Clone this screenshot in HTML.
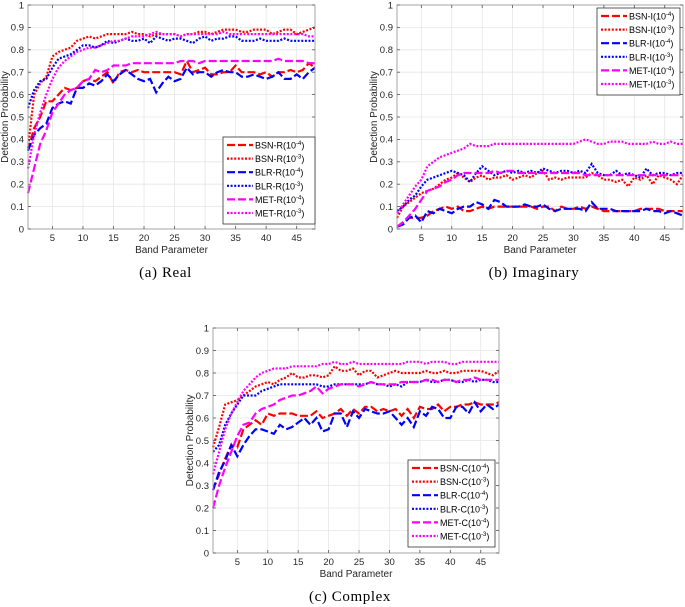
<!DOCTYPE html>
<html><head><meta charset="utf-8"><style>
body{margin:0;background:#fff;}
svg{display:block;font-family:"Liberation Sans",sans-serif;}
.cap{font-family:"Liberation Serif",serif;font-size:15px;letter-spacing:0.6px;fill:#000;}
</style></head><body>
<svg id="fig" width="685" height="607" viewBox="0 0 685 607" xmlns="http://www.w3.org/2000/svg"></svg>
<script>
// ---- data ----
const bands = Array.from({length:48},(_,i)=>i+1);
const xTicks = [5,10,15,20,25,30,35,40,45];
const yTicks = [0,0.1,0.2,0.3,0.4,0.5,0.6,0.7,0.8,0.9,1];
const yTickLabels = ["0","0.1","0.2","0.3","0.4","0.5","0.6","0.7","0.8","0.9","1"];

const bsnR4=[0.35,0.45,0.5,0.57,0.57,0.6,0.63,0.62,0.63,0.66,0.67,0.66,0.68,0.7,0.65,0.7,0.71,0.7,0.71,0.7,0.7,0.7,0.7,0.7,0.7,0.69,0.75,0.7,0.71,0.72,0.69,0.69,0.7,0.7,0.73,0.7,0.7,0.7,0.69,0.7,0.68,0.7,0.7,0.71,0.7,0.71,0.74,0.72];
const bsnR3=[0.36,0.6,0.65,0.68,0.77,0.79,0.8,0.81,0.84,0.85,0.86,0.85,0.86,0.87,0.87,0.87,0.87,0.88,0.87,0.87,0.86,0.87,0.87,0.87,0.87,0.86,0.87,0.87,0.88,0.88,0.87,0.88,0.89,0.89,0.89,0.88,0.88,0.89,0.89,0.89,0.87,0.88,0.89,0.89,0.87,0.88,0.89,0.9];
const blrR4=[0.35,0.42,0.45,0.47,0.54,0.56,0.57,0.56,0.63,0.63,0.65,0.64,0.66,0.69,0.66,0.69,0.71,0.69,0.67,0.66,0.67,0.61,0.65,0.68,0.66,0.67,0.72,0.69,0.7,0.7,0.68,0.7,0.71,0.7,0.7,0.68,0.68,0.69,0.68,0.67,0.68,0.7,0.67,0.67,0.69,0.67,0.7,0.72];
const blrR3=[0.54,0.62,0.66,0.67,0.72,0.76,0.77,0.78,0.8,0.82,0.82,0.81,0.82,0.84,0.83,0.84,0.85,0.84,0.84,0.85,0.83,0.86,0.85,0.84,0.85,0.85,0.84,0.83,0.85,0.86,0.84,0.85,0.85,0.86,0.86,0.84,0.84,0.84,0.85,0.84,0.84,0.84,0.85,0.84,0.84,0.84,0.84,0.84];
const metR4=[0.16,0.27,0.38,0.44,0.52,0.56,0.6,0.62,0.63,0.66,0.67,0.71,0.7,0.71,0.73,0.73,0.73,0.74,0.74,0.74,0.74,0.74,0.74,0.74,0.74,0.75,0.75,0.75,0.74,0.75,0.75,0.75,0.75,0.75,0.75,0.75,0.75,0.75,0.75,0.75,0.75,0.76,0.75,0.75,0.75,0.75,0.74,0.74];
const metR3=[0.27,0.42,0.52,0.6,0.67,0.72,0.75,0.77,0.79,0.8,0.81,0.81,0.82,0.83,0.84,0.84,0.85,0.86,0.86,0.86,0.87,0.88,0.87,0.87,0.87,0.86,0.87,0.87,0.87,0.87,0.87,0.87,0.88,0.87,0.87,0.87,0.87,0.87,0.87,0.87,0.87,0.87,0.87,0.87,0.87,0.87,0.86,0.86];

const bsnI4=[0.01,0.03,0.05,0.05,0.05,0.06,0.08,0.09,0.1,0.09,0.1,0.08,0.08,0.09,0.1,0.09,0.1,0.1,0.1,0.1,0.1,0.1,0.1,0.09,0.1,0.1,0.08,0.1,0.09,0.09,0.1,0.09,0.1,0.09,0.08,0.08,0.08,0.08,0.08,0.08,0.09,0.09,0.09,0.09,0.08,0.08,0.08,0.08];
const bsnI3=[0.05,0.1,0.12,0.14,0.16,0.17,0.18,0.2,0.22,0.23,0.25,0.23,0.21,0.23,0.24,0.22,0.23,0.23,0.24,0.22,0.23,0.24,0.23,0.25,0.26,0.22,0.23,0.22,0.23,0.23,0.23,0.23,0.25,0.24,0.22,0.22,0.21,0.22,0.19,0.23,0.22,0.24,0.2,0.24,0.23,0.22,0.2,0.24];
const blrI4=[0.01,0.02,0.05,0.06,0.03,0.08,0.07,0.09,0.08,0.07,0.09,0.1,0.1,0.12,0.11,0.09,0.13,0.12,0.1,0.1,0.1,0.11,0.1,0.1,0.11,0.09,0.08,0.09,0.09,0.09,0.09,0.08,0.12,0.09,0.09,0.09,0.08,0.08,0.08,0.08,0.08,0.09,0.08,0.08,0.07,0.08,0.07,0.06];
const blrI3=[0.08,0.1,0.13,0.15,0.19,0.22,0.23,0.24,0.25,0.26,0.25,0.24,0.21,0.25,0.28,0.26,0.24,0.25,0.26,0.25,0.26,0.25,0.26,0.25,0.27,0.26,0.25,0.26,0.26,0.25,0.26,0.25,0.29,0.25,0.24,0.24,0.26,0.24,0.25,0.24,0.23,0.27,0.24,0.25,0.25,0.24,0.25,0.25];
const metI4=[0.01,0.03,0.06,0.09,0.13,0.17,0.18,0.19,0.21,0.22,0.24,0.25,0.25,0.25,0.25,0.25,0.26,0.25,0.26,0.26,0.25,0.25,0.25,0.25,0.25,0.25,0.25,0.25,0.25,0.25,0.25,0.24,0.24,0.24,0.24,0.24,0.24,0.24,0.24,0.24,0.24,0.24,0.24,0.24,0.24,0.24,0.24,0.24];
const metI3=[0.07,0.11,0.15,0.19,0.22,0.28,0.3,0.32,0.33,0.34,0.35,0.36,0.38,0.37,0.37,0.37,0.38,0.38,0.38,0.38,0.38,0.38,0.38,0.38,0.38,0.38,0.38,0.38,0.38,0.38,0.39,0.4,0.39,0.38,0.38,0.39,0.39,0.39,0.38,0.38,0.38,0.38,0.39,0.38,0.38,0.39,0.38,0.38];

const bsnC4=[0.28,0.35,0.42,0.48,0.47,0.55,0.57,0.59,0.57,0.62,0.61,0.62,0.62,0.62,0.61,0.61,0.61,0.63,0.6,0.61,0.62,0.64,0.61,0.64,0.62,0.65,0.65,0.63,0.64,0.63,0.64,0.61,0.64,0.6,0.65,0.64,0.64,0.66,0.63,0.65,0.65,0.66,0.66,0.67,0.66,0.66,0.66,0.67];
const bsnC3=[0.47,0.56,0.66,0.67,0.68,0.7,0.72,0.74,0.75,0.76,0.75,0.77,0.78,0.8,0.78,0.78,0.79,0.79,0.78,0.79,0.83,0.81,0.81,0.82,0.79,0.81,0.81,0.78,0.79,0.8,0.81,0.8,0.8,0.8,0.8,0.81,0.8,0.8,0.81,0.8,0.8,0.81,0.81,0.81,0.81,0.8,0.79,0.81];
const blrC4=[0.28,0.36,0.41,0.48,0.43,0.48,0.52,0.55,0.55,0.54,0.53,0.57,0.55,0.56,0.58,0.6,0.57,0.6,0.54,0.55,0.62,0.62,0.56,0.63,0.6,0.64,0.63,0.62,0.62,0.63,0.6,0.57,0.6,0.56,0.63,0.61,0.65,0.64,0.6,0.6,0.65,0.65,0.62,0.67,0.63,0.66,0.64,0.66];
const blrC3=[0.45,0.48,0.57,0.62,0.66,0.7,0.7,0.7,0.72,0.73,0.74,0.75,0.75,0.75,0.75,0.75,0.75,0.75,0.74,0.74,0.75,0.75,0.75,0.75,0.75,0.75,0.76,0.75,0.75,0.74,0.75,0.74,0.76,0.76,0.76,0.77,0.76,0.76,0.77,0.77,0.76,0.76,0.77,0.76,0.77,0.77,0.76,0.76];
const metC4=[0.2,0.3,0.38,0.45,0.52,0.57,0.58,0.62,0.64,0.65,0.66,0.68,0.69,0.7,0.7,0.71,0.72,0.74,0.71,0.73,0.74,0.75,0.75,0.75,0.74,0.75,0.76,0.75,0.75,0.75,0.75,0.76,0.76,0.76,0.76,0.77,0.77,0.76,0.77,0.77,0.76,0.77,0.77,0.78,0.77,0.77,0.77,0.77];
const metC3=[0.35,0.45,0.55,0.62,0.67,0.72,0.75,0.78,0.8,0.81,0.82,0.82,0.82,0.83,0.83,0.83,0.83,0.83,0.84,0.84,0.85,0.84,0.84,0.85,0.84,0.84,0.84,0.84,0.84,0.84,0.84,0.84,0.85,0.85,0.85,0.84,0.85,0.85,0.85,0.84,0.84,0.85,0.85,0.85,0.85,0.85,0.85,0.85];

// ---- drawing ----
const NS="http://www.w3.org/2000/svg";
const svg=document.getElementById('fig');
function mk(tag,attrs,parent){const e=document.createElementNS(NS,tag);for(const k in attrs)e.setAttribute(k,attrs[k]);(parent||svg).appendChild(e);return e;}
const RED="#ff0000",BLUE="#0000ff",MAG="#ff00ff";
const DASH="8 3",DOT="2 1.6";

function panel(cfg){
  const g=mk('g',{});
  
  
  const L=cfg.l,R=cfg.r,T=cfg.t,B=cfg.b;
  const xs=v=>L+(v-1)/47*(R-L);
  const ys=v=>B-v*(B-T);
  mk('rect',{x:L,y:T,width:R-L,height:B-T,fill:'#fff'},g);
  const grid=mk('g',{},g);
  
  
  xTicks.forEach(t=>{mk('line',{x1:xs(t),x2:xs(t),y1:T,y2:B,stroke:'#e6e6e6','stroke-width':0.8},grid);});
  yTicks.forEach(t=>{mk('line',{x1:L,x2:R,y1:ys(t),y2:ys(t),stroke:'#e6e6e6','stroke-width':0.8},grid);});
  cfg.series.forEach(s=>{
    const d=s.data.map((v,i)=>(i?'L':'M')+xs(bands[i]).toFixed(1)+','+ys(v).toFixed(1)).join('');
    const p=mk('path',{d:d,fill:'none',stroke:s.color,'stroke-width':2.2,'stroke-dasharray':s.dash},g);
    
    
  });
  const box=mk('rect',{x:L,y:T,width:R-L,height:B-T,fill:'none',stroke:'#a6a6a6','stroke-width':1},g);
  
  
  xTicks.forEach(t=>{
    mk('line',{x1:xs(t),x2:xs(t),y1:B,y2:B-3,stroke:'#555','stroke-width':0.8},g);
    mk('line',{x1:xs(t),x2:xs(t),y1:T,y2:T+3,stroke:'#555','stroke-width':0.8},g);
    const tx=mk('text',{x:xs(t),y:B+12,'font-size':9.5,fill:'#262626','text-anchor':'middle'},g);
    tx.textContent=t;
    
    
  });
  yTicks.forEach((t,i)=>{
    mk('line',{x1:L,x2:L+3,y1:ys(t),y2:ys(t),stroke:'#555','stroke-width':0.8},g);
    mk('line',{x1:R,x2:R-3,y1:ys(t),y2:ys(t),stroke:'#555','stroke-width':0.8},g);
    const ty=mk('text',{x:L-4,y:ys(t)+3.3,'font-size':9.5,fill:'#262626','text-anchor':'end'},g);
    ty.textContent=yTickLabels[i];
    
    
  });
  const xl=mk('text',{x:(L+R)/2,y:B+24,'font-size':10,fill:'#262626','text-anchor':'middle'},g);
  xl.textContent='Band Parameter';
  
  
  const yx=L-20,yy=(T+B)/2;
  const yl=mk('text',{x:yx,y:yy,'font-size':10,fill:'#262626','text-anchor':'middle',transform:`rotate(-90 ${yx} ${yy})`},g);
  yl.textContent='Detection Probability';
  
  
  const lg=mk('g',{},g);
  
  
  mk('rect',{x:cfg.lx,y:cfg.ly,width:cfg.lw,height:87,fill:'#fff',stroke:'#333','stroke-width':0.8},lg);
  cfg.series.forEach((s,i)=>{
    const ry=cfg.ly+8+i*13.6;
    const e=mk('g',{},lg);
    
    
    mk('line',{x1:cfg.lx+4,x2:cfg.lx+30,y1:ry,y2:ry,stroke:s.color,'stroke-width':2.2,'stroke-dasharray':s.dash},e);
    const t=mk('text',{x:cfg.lx+32,y:ry+3.5,'font-size':9,fill:'#000'},e);
    t.appendChild(document.createTextNode(s.label+'(10'));
    const sup=mk('tspan',{dy:-3.5,'font-size':6},t);sup.textContent=s.exp;
    const cl=mk('tspan',{dy:3.5},t);cl.textContent=')';
  });
  const cap=mk('text',{x:(L+R)/2-6,y:cfg.capY,'text-anchor':'middle',class:'cap'},g);
  cap.textContent=cfg.caption;
  
  
}
function ser(pfx,suf,d4,d3,e4,e3,f4,f3){return [
 {key:'bsn-'+suf+'4',label:'BSN-'+pfx,exp:'-4',color:RED,dash:DASH,data:d4},
 {key:'bsn-'+suf+'3',label:'BSN-'+pfx,exp:'-3',color:RED,dash:DOT,data:d3},
 {key:'blr-'+suf+'4',label:'BLR-'+pfx,exp:'-4',color:BLUE,dash:DASH,data:e4},
 {key:'blr-'+suf+'3',label:'BLR-'+pfx,exp:'-3',color:BLUE,dash:DOT,data:e3},
 {key:'met-'+suf+'4',label:'MET-'+pfx,exp:'-4',color:MAG,dash:DASH,data:f4},
 {key:'met-'+suf+'3',label:'MET-'+pfx,exp:'-3',color:MAG,dash:DOT,data:f3}];}
panel({name:'panel-real',l:28,r:315,t:5,b:229,lx:223,ly:137,lw:92,capY:277,caption:'(a) Real',
  series:ser('R','r',bsnR4,bsnR3,blrR4,blrR3,metR4,metR3)});
panel({name:'panel-imaginary',l:397,r:683,t:5,b:229,lx:597,ly:8,lw:83,capY:277,caption:'(b) Imaginary',
  series:ser('I','i',bsnI4,bsnI3,blrI4,blrI3,metI4,metI3)});
panel({name:'panel-complex',l:213,r:499,t:328,b:553,lx:408,ly:460,lw:87,capY:601,caption:'(c) Complex',
  series:ser('C','c',bsnC4,bsnC3,blrC4,blrC3,metC4,metC3)});
</script>
</body></html>
